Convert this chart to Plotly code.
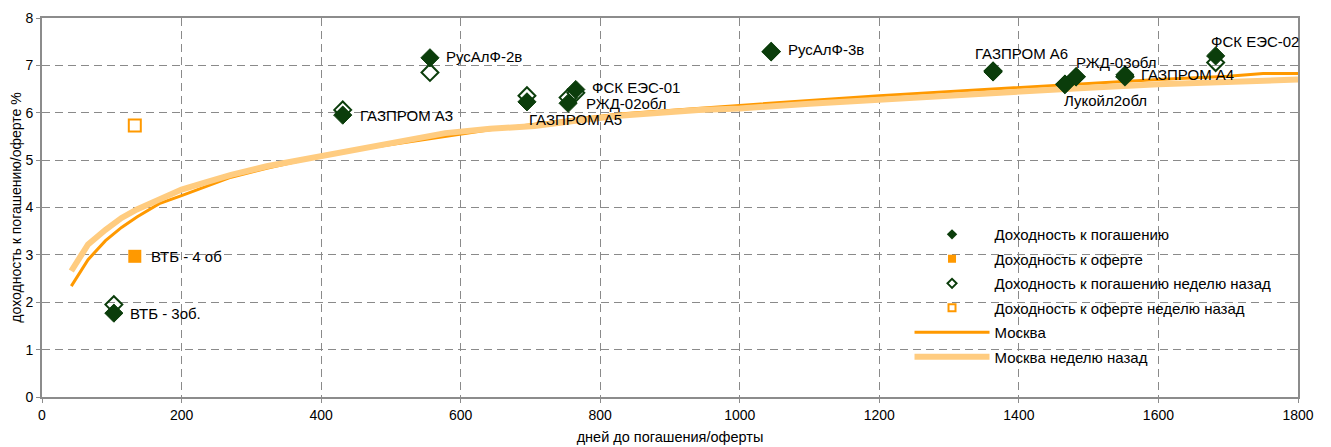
import plotly.graph_objects as go

# ---- data ----
bond_names = ["ВТБ - 3об.", "ГАЗПРОМ А3", "РусАлФ-2в", "ГАЗПРОМ А5", "РЖД-02обл", "ФСК ЕЭС-01",
              "РусАлФ-3в", "ГАЗПРОМ А6", "Лукойл2обл", "РЖД-03обл", "ГАЗПРОМ А4", "ФСК ЕЭС-02"]
bond_days = [103, 431, 556, 695, 754, 765, 1045, 1363, 1466, 1482, 1552, 1682]
ytm_now = [1.77, 5.95, 7.16, 6.23, 6.20, 6.49, 7.29, 6.86, 6.60, 6.76, 6.80, 7.20]
ytm_week = [1.95, 6.06, 6.85, 6.36, 6.32, 6.42, 7.29, 6.88, 6.60, 6.76, 6.76, 7.06]

offer_names = ["ВТБ - 4 об"]
offer_days = [133]
yto_now = [2.97]
yto_week = [5.73]

moscow_days = [42, 66, 91, 114, 136, 168, 200, 232, 271, 322, 399, 450, 514, 578, 642, 706, 770,
               832, 941, 1000, 1100, 1200, 1300, 1400, 1500, 1600, 1700, 1750, 1800]
moscow_now = [2.34, 2.90, 3.30, 3.58, 3.80, 4.08, 4.25, 4.42, 4.64, 4.83, 5.08, 5.22, 5.36, 5.50,
              5.64, 5.76, 5.88, 5.98, 6.10, 6.15, 6.26, 6.36, 6.45, 6.54, 6.62, 6.70, 6.77, 6.83, 6.83]
moscow_week = [2.66, 3.22, 3.53, 3.78, 3.96, 4.17, 4.38, 4.52, 4.69, 4.87, 5.08, 5.25, 5.42, 5.57,
               5.66, 5.72, 5.84, 5.94, 6.06, 6.09, 6.19, 6.28, 6.37, 6.45, 6.53, 6.60, 6.64, 6.67, 6.70]

x_ticks = [0, 200, 400, 600, 800, 1000, 1200, 1400, 1600, 1800]
y_ticks = [0, 1, 2, 3, 4, 5, 6, 7, 8]

# label placement (pixel offsets)
bond_label_pos = [("left", 14, 0), ("left", 15, 0), ("left", 14, 1), ("left", 0, -18),
                  ("left", 16, 0), ("left", 14, 2), ("left", 15, 2), ("center", 28, 19),
                  ("left", -3, -16), ("left", -2, 14), ("left", 14, 0), ("center", 39, 14)]
offer_label_pos = [("left", 14, 0)]

GREEN = "#0B3D0B"
ORANGE = "#FF9900"
LIGHT = "#FFCC80"
GRID = "#8A8A8A"
FONT = "Liberation Sans, Arial, sans-serif"

fig = go.Figure()

# plotted traces (not in legend)
fig.add_trace(go.Scatter(x=moscow_days, y=moscow_now, mode="lines", showlegend=False,
                         line=dict(color=ORANGE, width=3)))
fig.add_trace(go.Scatter(x=moscow_days, y=moscow_week, mode="lines", showlegend=False,
                         line=dict(color=LIGHT, width=6)))
fig.add_trace(go.Scatter(x=bond_days, y=ytm_week, mode="markers", showlegend=False,
                         marker=dict(symbol="diamond-open", size=13, color=GREEN, line=dict(width=2, color=GREEN))))
fig.add_trace(go.Scatter(x=offer_days, y=yto_week, mode="markers", showlegend=False,
                         marker=dict(symbol="square-open", size=12, color=ORANGE, line=dict(width=2, color=ORANGE))))
fig.add_trace(go.Scatter(x=bond_days, y=ytm_now, mode="markers", showlegend=False,
                         marker=dict(symbol="diamond", size=14, color=GREEN, line=dict(width=1, color=GREEN))))
fig.add_trace(go.Scatter(x=offer_days, y=yto_now, mode="markers", showlegend=False,
                         marker=dict(symbol="square", size=13, color=ORANGE)))

# legend entries
leg = [
    ("Доходность к погашению", dict(mode="markers", marker=dict(symbol="diamond", size=8, color=GREEN))),
    ("Доходность к оферте", dict(mode="markers", marker=dict(symbol="square", size=8, color=ORANGE))),
    ("Доходность к погашению неделю назад", dict(mode="markers", marker=dict(symbol="diamond-open", size=7, color=GREEN, line=dict(width=2, color=GREEN)))),
    ("Доходность к оферте неделю назад", dict(mode="markers", marker=dict(symbol="square-open", size=7, color=ORANGE, line=dict(width=2, color=ORANGE)))),
    ("Москва", dict(mode="lines", line=dict(color=ORANGE, width=3))),
    ("Москва неделю назад", dict(mode="lines", line=dict(color=LIGHT, width=6))),
]
for i, (nm, kw) in enumerate(leg):
    fig.add_trace(go.Scatter(x=[None], y=[None], name=nm, legendgroup=f"g{i}", legendrank=i + 1, **kw))

for name, xv, yv, (anc, dx, dy) in zip(bond_names, bond_days, ytm_now, bond_label_pos):
    fig.add_annotation(x=xv, y=yv, text=name, showarrow=False, xanchor=anc, yanchor="middle",
                       xshift=dx, yshift=dy, font=dict(family=FONT, size=15, color="#000"))
for name, xv, yv, (anc, dx, dy) in zip(offer_names, offer_days, yto_now, offer_label_pos):
    fig.add_annotation(x=xv, y=yv, text=name, showarrow=False, xanchor=anc, yanchor="middle",
                       xshift=dx, yshift=dy, font=dict(family=FONT, size=15, color="#000"))

fig.update_layout(
    width=1323, height=439,
    margin=dict(l=34, r=33, t=10, b=50),
    paper_bgcolor="white", plot_bgcolor="white",
    font=dict(family=FONT, size=14, color="#000"),
    legend=dict(x=0.6907, y=0.472, xanchor="left", yanchor="top", bgcolor="rgba(255,255,255,0)",
                font=dict(family=FONT, size=15), itemwidth=75, tracegroupgap=2),
    showlegend=True,
)
fig.update_xaxes(range=[0, 1800], tickvals=x_ticks, ticktext=[str(v) for v in x_ticks],
                 showgrid=True, gridcolor=GRID, griddash="8px,5px", gridwidth=1,
                 showline=True, linecolor="#8C8C8C", linewidth=2, mirror=True,
                 ticks="outside", ticklen=4, tickcolor="#8C8C8C", zeroline=False, automargin=False,
                 tickfont=dict(size=14),
                 title=dict(text="дней до погашения/оферты", font=dict(size=14.5), standoff=10))
fig.update_yaxes(range=[0, 8], tickvals=y_ticks, ticktext=[str(v) for v in y_ticks],
                 showgrid=True, gridcolor=GRID, griddash="8px,5px", gridwidth=1,
                 showline=True, linecolor="#8C8C8C", linewidth=2, mirror=True,
                 ticks="outside", ticklen=4, tickcolor="#8C8C8C", zeroline=False, automargin=False,
                 tickfont=dict(size=14),
                 title=dict(text="доходность к погашению/оферте %", font=dict(size=14), standoff=4))

fig.write_html("out.html")
